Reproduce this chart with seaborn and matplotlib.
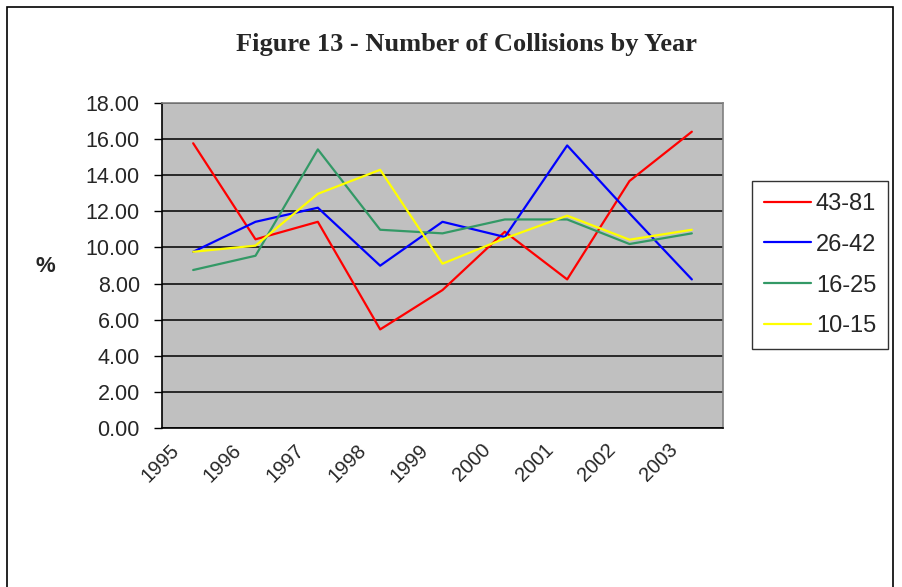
import numpy as np
import pandas as pd
import matplotlib
matplotlib.use("Agg")
import matplotlib.pyplot as plt
import matplotlib.transforms as mtransforms
from matplotlib.patches import Rectangle
import seaborn as sns

years = ["1995", "1996", "1997", "1998", "1999", "2000", "2001", "2002", "2003"]
age_groups = ["43-81", "26-42", "16-25", "10-15"]
pct_43_81 = [15.77, 10.45, 11.42, 5.46, 7.64, 10.87, 8.23, 13.68, 16.41]
pct_26_42 = [9.76, 11.42, 12.20, 8.99, 11.42, 10.58, 15.65, 11.89, 8.23]
pct_16_25 = [8.75, 9.54, 15.43, 10.98, 10.78, 11.55, 11.55, 10.19, 10.78]
pct_10_15 = [9.76, 10.10, 12.97, 14.30, 9.10, 10.50, 11.76, 10.43, 10.98]
colors = ["#FF0000", "#0000FF", "#339966", "#FFFF00"]

sns.set_theme(style="white")
plt.rcParams['font.family'] = ['Liberation Sans', 'DejaVu Sans']

# long format for seaborn
rows = []
for grp, vals in zip(age_groups, [pct_43_81, pct_26_42, pct_16_25, pct_10_15]):
    for i, v in enumerate(vals):
        rows.append({"pos": i, "year": years[i], "group": grp, "pct": v})
df = pd.DataFrame(rows)

fig = plt.figure(figsize=(9.02, 5.87), dpi=100)
ax = fig.add_axes([162 / 902, 1 - 428 / 587, (723 - 162) / 902, (428 - 103) / 587])
ax.set_facecolor("#C0C0C0")

sns.lineplot(data=df, x="pos", y="pct", hue="group", hue_order=age_groups,
             palette=colors, linewidth=1.6, ax=ax, legend=True, zorder=3)

ax.set_xlim(-0.5, len(years) - 0.5)
ax.set_ylim(0, 18)
ax.set_yticks(np.arange(0, 18.01, 2))
ax.set_yticklabels([f"{v:.2f}" for v in np.arange(0, 18.01, 2)], fontsize=15.5)
ax.grid(axis="y", color="black", linewidth=1.1, zorder=1)
ax.set_axisbelow(True)

# category labels at centers, tick marks at boundaries
ax.set_xticks(range(len(years)))
ax.set_xticklabels(years, rotation=45, ha="right", va="center",
                   rotation_mode="anchor", fontsize=14.5)
ax.set_xticks(np.arange(-0.5, len(years)), minor=True)
ax.tick_params(axis="x", which="major", length=0, pad=0)
ax.tick_params(axis="x", which="minor", length=6, width=1, color="black", direction="out")
ax.tick_params(axis="y", length=6, width=1, color="black", direction="out", left=True, pad=10)
offset = mtransforms.ScaledTranslation(-17 / 100, -19 / 100, fig.dpi_scale_trans)
for lbl in ax.get_xticklabels():
    lbl.set_transform(lbl.get_transform() + offset)

for side in ["top", "right"]:
    ax.spines[side].set_color("#808080")
    ax.spines[side].set_linewidth(1.2)
for side in ["left", "bottom"]:
    ax.spines[side].set_color("black")
    ax.spines[side].set_linewidth(1.2)

ax.set_xlabel("")
ax.set_ylabel("")

leg = ax.legend(loc="upper left", bbox_to_anchor=(752 / 902, 1 - 181 / 587),
                bbox_transform=fig.transFigure, frameon=True, fancybox=False,
                fontsize=17, handlelength=2.0, labelspacing=0.8,
                borderpad=0.5, handletextpad=0.2, borderaxespad=0)
leg.get_frame().set_edgecolor("black")
leg.get_frame().set_linewidth(1.0)
for h in leg.get_lines():
    h.set_linewidth(1.6)

fig.text(467 / 902, 1 - 45 / 587, "Figure 13 - Number of Collisions by Year",
         ha="center", va="center", fontsize=19, fontweight="bold",
         family=["Liberation Serif", "DejaVu Serif"])
fig.text(45 / 902, 1 - 266 / 587, "%", ha="center", va="center",
         fontsize=16, fontweight="bold")

fig.patches.append(Rectangle((7 / 902, -0.01), (893 - 7) / 902, 1 - 7 / 587 + 0.01,
                             transform=fig.transFigure, fill=False,
                             edgecolor="black", linewidth=1.2))

fig.savefig("out.png", dpi=100)
